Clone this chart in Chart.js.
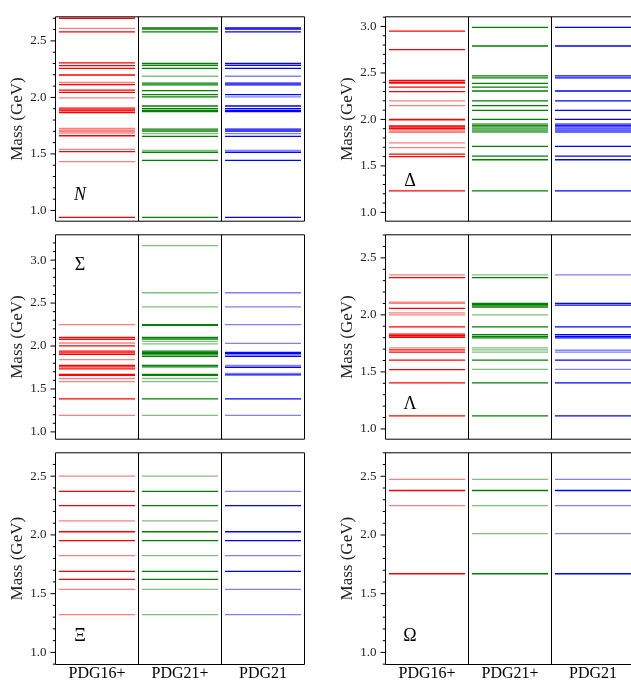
<!DOCTYPE html>
<html><head><meta charset="utf-8">
<script src="https://cdn.jsdelivr.net/npm/chart.js@4.4.1/dist/chart.umd.min.js"></script>
<style>
html,body{margin:0;padding:0;overflow:hidden;background:#fff;width:631px;height:684px}
canvas{position:absolute}
</style></head><body>
<script>
// ---------------- DATA (masses in GeV) ----------------
const categories = ['PDG16+', 'PDG21+', 'PDG21'];
const yTitle = 'Mass (GeV)';

// N
const N_PDG16_firm = [2.70, 2.58, 2.306, 2.281, 2.256, 2.198, 2.113, 2.065, 2.045, 1.905, 1.89, 1.88, 1.865, 1.661, 1.52, 0.939];
const N_PDG16_tent = [2.61, 2.132, 1.996, 1.725, 1.71, 1.70, 1.685, 1.54, 1.432];
const N_PDG21p_firm = [2.615, 2.605, 2.58, 2.30, 2.284, 2.256, 2.126, 2.11, 2.06, 2.024, 2.005, 1.924, 1.90, 1.885, 1.875, 1.72, 1.703, 1.656, 1.515, 1.443, 0.939];
const N_PDG21p_tent = [2.187, 1.68, 1.531];
const N_PDG21_firm = [2.615, 2.605, 2.58, 2.30, 2.284, 2.256, 2.126, 2.11, 2.024, 1.924, 1.90, 1.885, 1.875, 1.72, 1.703, 1.656, 1.515, 1.443, 0.939];
const N_PDG21_tent = [2.187, 2.005, 1.68, 1.531];

// Delta
const D_PDG16_firm = [2.95, 2.751, 2.42, 2.40, 2.39, 2.347, 2.30, 2.0, 1.995, 1.93, 1.92, 1.905, 1.626, 1.60, 1.232];
const D_PDG16_tent = [2.199, 2.148, 1.89, 1.875, 1.86, 1.747, 1.697];
const D_PDG21p_firm = [2.99, 2.79, 2.468, 2.448, 2.387, 2.347, 2.306, 2.199, 2.148, 2.098, 2.0, 1.93, 1.71, 1.606, 1.566, 1.232];
const D_PDG21p_tent = [1.955, 1.945, 1.935, 1.92, 1.91, 1.90, 1.89, 1.88, 1.87, 1.86];
const D_PDG21_firm = [2.99, 2.79, 2.468, 2.448, 2.306, 2.199, 2.098, 2.0, 1.93, 1.71, 1.606, 1.566, 1.232];
const D_PDG21_tent = [1.955, 1.945, 1.935, 1.92, 1.91, 1.90, 1.89, 1.88, 1.87, 1.86];

// Sigma
const S_PDG16_firm = [2.10, 2.079, 2.002, 1.94, 1.921, 1.903, 1.775, 1.757, 1.735, 1.669, 1.658, 1.384];
const S_PDG16_tent = [2.25, 2.035, 1.841, 1.622, 1.585, 1.193];
const S_PDG21p_firm = [2.25, 2.24, 2.10, 2.082, 1.94, 1.925, 1.915, 1.905, 1.881, 1.775, 1.757, 1.669, 1.658, 1.384];
const S_PDG21p_tent = [3.168, 2.62, 2.455, 2.053, 2.024, 1.622, 1.585, 1.193];
const S_PDG21_firm = [1.925, 1.91, 1.881, 1.753, 1.665, 1.384];
const S_PDG21_tent = [2.62, 2.455, 2.25, 2.03, 1.775, 1.68, 1.193];

// Lambda
const L_PDG16_firm = [2.327, 2.057, 1.894, 1.831, 1.817, 1.804, 1.693, 1.674, 1.603, 1.52, 1.404, 1.115];
const L_PDG16_tent = [2.351, 2.112, 2.10, 2.018, 2.0, 1.71];
const L_PDG21p_firm = [2.327, 2.10, 2.09, 2.079, 2.068, 1.894, 1.826, 1.812, 1.798, 1.603, 1.404, 1.115];
const L_PDG21p_tent = [2.351, 2.0, 1.71, 1.693, 1.674, 1.523];
const L_PDG21_firm = [2.10, 2.085, 1.894, 1.826, 1.812, 1.798, 1.603, 1.404, 1.115];
const L_PDG21_tent = [2.351, 1.69, 1.674, 1.523];

// Xi
const X_PDG16_firm = [2.371, 2.25, 2.027, 1.952, 1.69, 1.622];
const X_PDG16_tent = [2.50, 2.12, 1.823, 1.537, 1.322];
const X_PDG21p_firm = [2.371, 2.25, 2.027, 1.952, 1.69, 1.622];
const X_PDG21p_tent = [2.50, 2.12, 1.823, 1.537, 1.322];
const X_PDG21_firm = [2.25, 2.027, 1.952, 1.69];
const X_PDG21_tent = [2.371, 1.823, 1.537, 1.322];

// Omega
const O_PDG16_firm = [2.379, 1.67];
const O_PDG16_tent = [2.473, 2.25];
const O_PDG21p_firm = [2.379, 1.67];
const O_PDG21p_tent = [2.473, 2.25, 2.011];
const O_PDG21_firm = [2.379, 1.67];
const O_PDG21_tent = [2.473, 2.25, 2.011];

// axis ranges (GeV)
const N_range = [0.905, 2.713];
const D_range = [0.905, 3.104];
const S_range = [0.915, 3.295];
const L_range = [0.91, 2.702];
const X_range = [0.897, 2.699];
const O_range = [0.897, 2.70];

// ---------------- STYLE / LAYOUT ----------------
const SERIF = "'Liberation Serif', 'Times New Roman', serif";
const RGB = ['255,0,0', '0,128,0', '0,0,255'];
const COLS = [
  {left: 0, width: 315, areaLeft: 55.5, padRight: 10.5, titlePad: 7.3},
  {left: 315, width: 322, areaLeft: 70.5, padRight: 2.5, titlePad: 22.3}
];
const ROWS = [
  {top: 0, height: 238, padTop: 10.5, padBottom: 9.5, xAxis: false},
  {top: 218, height: 238, padTop: 10.5, padBottom: 9.5, xAxis: false},
  {top: 436, height: 248, padTop: 10.5, padBottom: 0, xAxis: true, xHeight: 19.5}
];

const decor = {
  id: 'decor',
  afterDatasetsDraw(chart, args, opts) {
    const {ctx, chartArea: a, scales: {x, y}} = chart;
    ctx.save();
    ctx.strokeStyle = '#000';
    ctx.lineWidth = 1;
    ctx.beginPath();
    for (let i = 1; i < categories.length; i++) {
      const px = (x.getPixelForValue(i - 1) + x.getPixelForValue(i)) / 2;
      ctx.moveTo(px, a.top); ctx.lineTo(px, a.bottom);
    }
    ctx.rect(a.left, a.top, a.right - a.left, a.bottom - a.top);
    y.ticks.forEach(t => {
      const py = y.getPixelForValue(t.value);
      const major = Math.abs(t.value * 2 - Math.round(t.value * 2)) < 1e-6;
      ctx.moveTo(a.left - (major ? 5 : 2.7), py); ctx.lineTo(a.left, py);
    });
    ctx.stroke();
    ctx.fillStyle = '#000';
    ctx.font = (opts.italic ? 'italic ' : '') + '18px ' + SERIF;
    ctx.textAlign = 'center';
    ctx.textBaseline = 'alphabetic';
    ctx.fillText(opts.label, a.left + 24.5, y.getPixelForValue(opts.labelY) + 6);
    ctx.restore();
  }
};

function panel(col, row, series, range, label, labelY, italic) {
  const C = COLS[col], R = ROWS[row];
  const cv = document.createElement('canvas');
  cv.width = C.width; cv.height = R.height;
  cv.style.left = C.left + 'px'; cv.style.top = R.top + 'px';
  cv.style.width = C.width + 'px'; cv.style.height = R.height + 'px';
  document.body.appendChild(cv);

  const datasets = [];
  series.forEach((s, ci) => {
    [[s[1], 0.5], [s[0], 1]].forEach(([vals, alpha]) => {
      const col = `rgba(${RGB[ci]},${alpha})`;
      datasets.push({
        data: vals.map(m => ({x: categories[ci], y: m})),
        showLine: false,
        borderColor: col,
        pointBorderColor: col,
        pointBackgroundColor: col,
        pointStyle: 'line',
        pointRadius: 38,
        pointHoverRadius: 38,
        pointBorderWidth: 1.3,
        clip: false
      });
    });
  });

  const tickVals = [];
  for (let k = Math.ceil(range[0] * 10 - 1e-9); k <= Math.floor(range[1] * 10 + 1e-9); k++) tickVals.push(k / 10);

  new Chart(cv, {
    type: 'line',
    data: {labels: categories, datasets},
    options: {
      responsive: false,
      animation: false,
      events: [],
      layout: {autoPadding: false, padding: {top: R.padTop, bottom: R.padBottom, left: 0, right: C.padRight}},
      plugins: {legend: {display: false}, tooltip: {enabled: false},
        decor: {label, labelY, italic}},
      scales: {
        x: {
          type: 'category',
          offset: true,
          display: R.xAxis,
          grid: {display: false, drawTicks: false},
          border: {display: false},
          ticks: {padding: 0, color: '#000', font: {family: SERIF, size: 16}, maxRotation: 0},
          afterFit: sc => { if (R.xAxis) sc.height = R.xHeight; }
        },
        y: {
          type: 'linear',
          min: range[0],
          max: range[1],
          grid: {display: false, drawTicks: false},
          border: {display: false},
          afterBuildTicks: sc => { sc.ticks = tickVals.map(v => ({value: v})); },
          ticks: {
            autoSkip: false,
            padding: 9,
            color: '#222',
            font: {family: SERIF, size: 13},
            callback: v => (Math.abs(v * 2 - Math.round(v * 2)) < 1e-6 ? Number(v).toFixed(1) : '')
          },
          title: {display: true, text: yTitle, color: '#222', font: {family: SERIF, size: 17},
            padding: {top: C.titlePad, bottom: 0}},
          afterFit: sc => { sc.width = C.areaLeft; }
        }
      }
    },
    plugins: [decor]
  });
}

panel(0, 0, [[N_PDG16_firm, N_PDG16_tent], [N_PDG21p_firm, N_PDG21p_tent], [N_PDG21_firm, N_PDG21_tent]], N_range, 'N', 1.15, true);
panel(1, 0, [[D_PDG16_firm, D_PDG16_tent], [D_PDG21p_firm, D_PDG21p_tent], [D_PDG21_firm, D_PDG21_tent]], D_range, 'Δ', 1.35, false);
panel(0, 1, [[S_PDG16_firm, S_PDG16_tent], [S_PDG21p_firm, S_PDG21p_tent], [S_PDG21_firm, S_PDG21_tent]], S_range, 'Σ', 2.96, false);
panel(1, 1, [[L_PDG16_firm, L_PDG16_tent], [L_PDG21p_firm, L_PDG21p_tent], [L_PDG21_firm, L_PDG21_tent]], L_range, 'Λ', 1.23, false);
panel(0, 2, [[X_PDG16_firm, X_PDG16_tent], [X_PDG21p_firm, X_PDG21p_tent], [X_PDG21_firm, X_PDG21_tent]], X_range, 'Ξ', 1.15, false);
panel(1, 2, [[O_PDG16_firm, O_PDG16_tent], [O_PDG21p_firm, O_PDG21p_tent], [O_PDG21_firm, O_PDG21_tent]], O_range, 'Ω', 1.15, false);
</script>
</body></html>
